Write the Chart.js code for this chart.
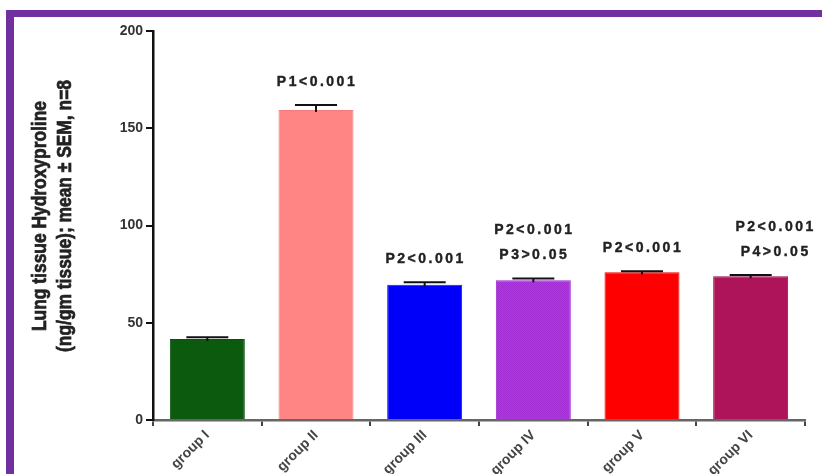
<!DOCTYPE html>
<html>
<head>
<meta charset="utf-8">
<script src="https://cdn.jsdelivr.net/npm/chart.js@4.4.0/dist/chart.umd.min.js"></script>
<style>
    html, body { margin: 0; padding: 0; background: #fff; overflow: hidden; }
    #frame {
        position: absolute; left: 6px; top: 10px; width: 900px; height: 600px;
        border-top: 7px solid #7030A0; border-left: 8px solid #7030A0;
    }
    #wrap { position: absolute; left: 0; top: 0; width: 822px; height: 474px; }
</style>
</head>
<body>
<div id="frame"></div>
<div id="wrap"><canvas id="hypChart" width="822" height="474"></canvas></div>
<script>
const categories = ['group I', 'group II', 'group III', 'group IV', 'group V', 'group VI'];
const meanValues = [41.7, 159.4, 69.6, 71.8, 75.9, 73.9];
const semValues = [0.8, 2.5, 1.2, 1.0, 0.6, 0.6];
const pLabels = [[], ['P1<0.001'], ['P2<0.001'], ['P2<0.001', 'P3>0.05'], ['P2<0.001'], ['P2<0.001', 'P4>0.05']];
const yTicks = [0, 50, 100, 150, 200];
const yTitle = ['Lung tissue Hydroxyproline', '(ng/gm tissue); mean \u00b1 SEM, n=8'];

// fine hatch for group IV
function hatch(c1, c2) {
    const p = document.createElement('canvas');
    p.width = 2; p.height = 2;
    const g = p.getContext('2d');
    g.fillStyle = c1; g.fillRect(0, 0, 2, 2);
    g.fillStyle = c2; g.fillRect(0, 0, 1, 1); g.fillRect(1, 1, 1, 1);
    return g.createPattern(p, 'repeat');
}

const barColors = ['#0B5A0E', '#FF8484', '#0000FA', hatch('#B13BE2', '#A02CD2'), '#FF0000', '#AE1459'];
const edgeColors = ['#0A4F0C', '#F27A7A', '#1818E8', '#9A2ACB', '#EE0000', '#8E0F49'];

const errorBars = {
    id: 'errorBars',
    afterDatasetsDraw(chart) {
        const ctx = chart.ctx;
        const y = chart.scales.y;
        const meta = chart.getDatasetMeta(0);
        ctx.save();
        ctx.strokeStyle = '#111';
        ctx.lineWidth = 2;
        meta.data.forEach((bar, i) => {
            const top = y.getPixelForValue(meanValues[i] + semValues[i]);
            ctx.beginPath();
            ctx.moveTo(bar.x, bar.y + 2);
            ctx.lineTo(bar.x, top);
            ctx.moveTo(bar.x - 21, top);
            ctx.lineTo(bar.x + 21, top);
            ctx.stroke();
        });
        ctx.restore();
    }
};

const pValues = {
    id: 'pValues',
    afterDatasetsDraw(chart, args, opts) {
        const ctx = chart.ctx;
        const y = chart.scales.y;
        const meta = chart.getDatasetMeta(0);
        ctx.save();
        ctx.fillStyle = '#222';
        ctx.strokeStyle = '#222';
        ctx.lineWidth = 0.4;
        ctx.font = 'bold 14px "Liberation Sans", Arial, sans-serif';
        ctx.letterSpacing = '2.5px';
        ctx.textAlign = 'center';
        ctx.textBaseline = 'middle';
        meta.data.forEach((bar, i) => {
            const lines = pLabels[i];
            const top = y.getPixelForValue(meanValues[i] + semValues[i]);
            const dx = (opts.nudge[i] || 0);
            lines.forEach((t, k) => {
                const yy = top - 23 - (lines.length - 1 - k) * 25;
                ctx.fillText(t, bar.x + dx + 1, yy);
                ctx.strokeText(t, bar.x + dx + 1, yy);
            });
        });
        ctx.restore();
    }
};

// condensed two-line y title, squeezed along the text direction
const yTitlePlugin = {
    id: 'yTitle',
    afterDraw(chart, args, opts) {
        const ctx = chart.ctx;
        ctx.save();
        ctx.fillStyle = '#222';
        ctx.strokeStyle = '#222';
        ctx.lineWidth = 0.7;
        ctx.font = 'bold 20px "Liberation Sans", Arial, sans-serif';
        ctx.textAlign = 'center';
        ctx.textBaseline = 'middle';
        const squeeze = opts.length / ctx.measureText(yTitle[0]).width;
        yTitle.forEach((t, k) => {
            ctx.save();
            ctx.translate(opts.x[k], opts.y);
            ctx.rotate(-Math.PI / 2);
            ctx.scale(squeeze, 1);
            ctx.fillText(t, 0, 0);
            ctx.strokeText(t, 0, 0);
            ctx.restore();
        });
        ctx.restore();
    }
};

new Chart(document.getElementById('hypChart').getContext('2d'), {
    type: 'bar',
    data: {
        labels: categories,
        datasets: [{
            data: meanValues,
            backgroundColor: barColors,
            borderColor: edgeColors,
            borderWidth: 1,
            barPercentage: 0.69,
            categoryPercentage: 1
        }]
    },
    options: {
        responsive: false,
        animation: false,
        layout: { padding: { left: 29, right: 17, top: 31, bottom: 0 } },
        plugins: {
            legend: { display: false },
            tooltip: { enabled: false },
            pValues: { nudge: [0, 0, 0, 0, 0, 24] },
            yTitle: { x: [40, 65], y: 216, length: 230 }
        },
        scales: {
            x: {
                grid: { display: true, drawOnChartArea: false, drawTicks: true, tickLength: 6, color: '#444', lineWidth: 2 },
                border: { color: '#666', width: 2.5 },
                ticks: {
                    color: '#444',
                    font: { family: '"Liberation Sans", Arial, sans-serif', size: 14, weight: 'bold' },
                    maxRotation: 45, minRotation: 45, padding: 1
                },
                afterFit(scale) { scale.height = 54; }
            },
            y: {
                min: 0, max: 200,
                afterBuildTicks(scale) { scale.ticks = yTicks.map(v => ({ value: v })); },
                grid: { display: true, drawOnChartArea: false, drawTicks: true, tickLength: 7, color: '#111', lineWidth: 2 },
                border: { color: '#111', width: 2.5 },
                ticks: {
                    color: '#333',
                    font: { family: '"Liberation Sans", Arial, sans-serif', size: 14, weight: 'bold' },
                    padding: 3
                },
                afterFit(scale) { scale.width = 124; }
            }
        }
    },
    plugins: [errorBars, pValues, yTitlePlugin]
});
</script>
</body>
</html>
